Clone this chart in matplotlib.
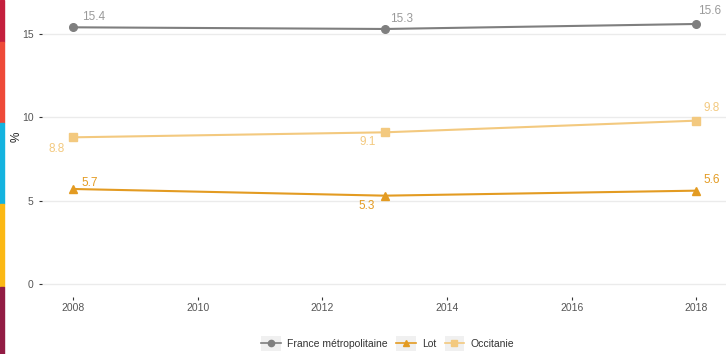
import matplotlib.pyplot as plt
from matplotlib.patches import Rectangle
from matplotlib.legend_handler import HandlerLine2D

plt.rcParams["font.family"] = ["Liberation Sans", "DejaVu Sans"]

years = [2008, 2013, 2018]
france = [15.4, 15.3, 15.6]
lot = [5.7, 5.3, 5.6]
occitanie = [8.8, 9.1, 9.8]

# (offset in points, horizontal alignment, vertical alignment) for each value label
france_lab = [((6, 3), "left", "bottom"), ((4, 3), "left", "bottom"), ((1.5, 5), "left", "bottom")]
lot_lab = [((6, 0), "left", "bottom"), ((-7, -3), "right", "top"), ((5, 3), "left", "bottom")]
occ_lab = [((-6, -4), "right", "top"), ((-6.5, -3), "right", "top"), ((5, 5), "left", "bottom")]

series = [
    ("France métropolitaine", france, "#7f7f7f", "#9a9a9a", "o", france_lab),
    ("Lot", lot, "#e39b22", "#e39b22", "^", lot_lab),
    ("Occitanie", occitanie, "#f3c97f", "#f3c97f", "s", occ_lab),
]


class KeyHandler(HandlerLine2D):
    # legend key drawn over a light grey box
    def create_artists(self, legend, orig_handle, xdescent, ydescent, width, height, fontsize, trans):
        arts = super().create_artists(legend, orig_handle, xdescent, ydescent, width, height, fontsize, trans)
        for a in arts:
            a.set_linewidth(1.2)
            a.set_markersize(4.5)
        cy = height / 2 - ydescent
        h = 0.75 * width
        bg = Rectangle((-xdescent, cy - h / 2), width, h, facecolor="#f0f0f0",
                       edgecolor="none", transform=trans)
        return [bg] + arts


fig = plt.figure(figsize=(7.26, 3.54), dpi=100)
ax = fig.add_axes([0.058, 0.161, 0.944, 0.808])

# coloured band down the left edge
band = ["#c41f3d", "#ee4a38", "#14b3df", "#fbb814", "#921c44"]
edges = [354, 312, 231, 150, 67, 0]
for c, top, bot in zip(band, edges[:-1], edges[1:]):
    fig.patches.append(Rectangle((0, bot / 354), 3.5 / 726, (top - bot) / 354,
                                 transform=fig.transFigure, color=c, zorder=0))

for name, vals, col, lcol, mk, labs in series:
    ax.plot(years, vals, color=col, lw=1.5, marker=mk, ms=5.5, label=name, zorder=3)
    for x, v, (off, ha, va) in zip(years, vals, labs):
        ax.annotate(f"{v}", (x, v), xytext=off, textcoords="offset points",
                    color=lcol, fontsize=8.5, ha=ha, va=va)

ax.set_xlim(2007.5, 2018.5)
ax.set_ylim(-0.78, 16.38)
ax.set_xticks(range(2008, 2019, 2))
ax.set_yticks([0, 5, 10, 15])
ax.grid(axis="y", color="#ebebeb", lw=1, zorder=0)
for x in range(2008, 2019, 2):
    ax.axvline(x, color="white", lw=1.5, zorder=1)
for s in ax.spines.values():
    s.set_visible(False)
ax.tick_params(colors="#333333", labelcolor="#555555", labelsize=7.5, length=2.5, width=0.8)
ax.tick_params(axis="x", pad=1.5)
ax.set_ylabel("%", fontsize=8.5, color="#222222")
ax.yaxis.set_label_coords(-0.028, 0.56)

leg = ax.legend(loc="center", bbox_to_anchor=(0.504, -0.164), ncol=3, frameon=False,
                fontsize=7.5, handlelength=1.9, handletextpad=0.6, columnspacing=0.8,
                handler_map={plt.Line2D: KeyHandler()})
for t in leg.get_texts():
    t.set_color("#333333")

fig.savefig("out.png", dpi=100)
